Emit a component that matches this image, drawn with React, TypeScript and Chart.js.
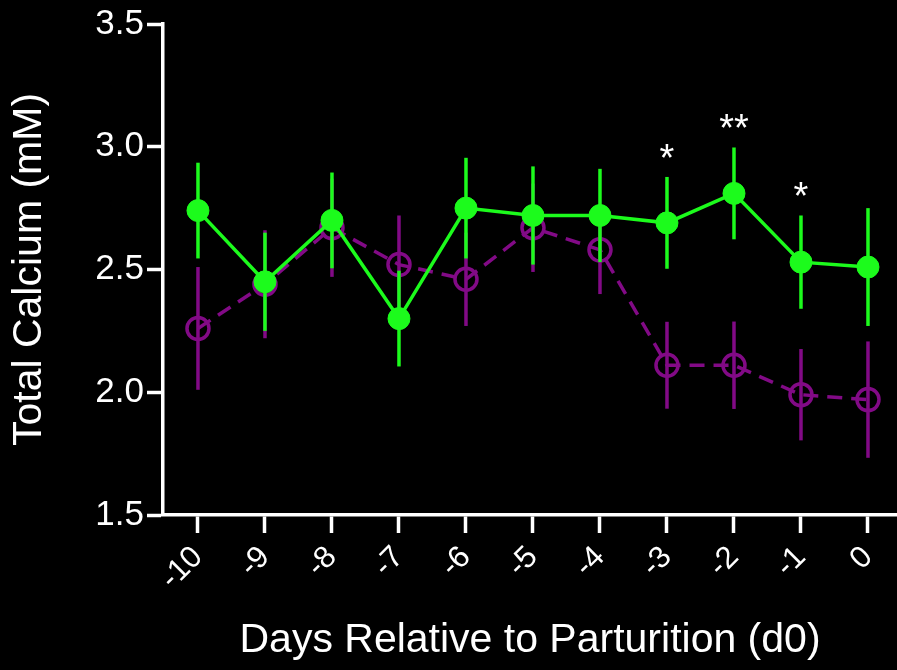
import React, { useEffect, useRef } from "react";
import { Chart, registerables } from "chart.js";

Chart.register(...registerables);

// Days relative to parturition (d0)
const days = [-10, -9, -8, -7, -6, -5, -4, -3, -2, -1, 0];

// Normocalcemic group: mean ± SEM total calcium (mM)
const normoMean = [2.74, 2.45, 2.70, 2.30, 2.75, 2.72, 2.72, 2.69, 2.81, 2.53, 2.51];
const normoSem = [0.195, 0.2, 0.195, 0.195, 0.205, 0.2, 0.19, 0.187, 0.187, 0.19, 0.24];

// Hypocalcemic group: mean ± SEM total calcium (mM)
const hypoMean = [2.26, 2.44, 2.67, 2.52, 2.46, 2.67, 2.58, 2.11, 2.11, 1.99, 1.97];
const hypoSem = [0.25, 0.22, 0.2, 0.2, 0.19, 0.18, 0.18, 0.177, 0.178, 0.186, 0.237];

// Significance markers per day
const significance = ["", "", "", "", "", "", "", "*", "**", "*", ""];

// Y axis ticks
const yTicks = [1.5, 2.0, 2.5, 3.0, 3.5];

const GREEN = "#1cfb1c";
const PURPLE = "#820a86";
const FONT = "'Liberation Sans', Arial, Helvetica, sans-serif";

const W = 897;
const H = 670;

const errorBars = {
  id: "errorBars",
  beforeDatasetDraw(chart: any, args: any) {
    const ds: any = chart.data.datasets[args.index];
    if (!ds.sem) return;
    const { ctx } = chart;
    const xs = chart.scales.x;
    const ys = chart.scales.y;
    ctx.save();
    ctx.strokeStyle = ds.borderColor;
    ctx.lineWidth = 3.5;
    ctx.setLineDash([]);
    ds.data.forEach((p: any, i: number) => {
      const x = xs.getPixelForValue(p.x);
      const top = ys.getPixelForValue(p.y + ds.sem[i]);
      const bot = ys.getPixelForValue(p.y - ds.sem[i]);
      ctx.beginPath();
      ctx.moveTo(x, top);
      ctx.lineTo(x, bot);
      ctx.stroke();
    });
    ctx.restore();
  },
};

const stars = {
  id: "stars",
  afterDatasetsDraw(chart: any) {
    const { ctx } = chart;
    const xs = chart.scales.x;
    const ys = chart.scales.y;
    ctx.save();
    ctx.fillStyle = "#ffffff";
    ctx.font = `38px ${FONT}`;
    ctx.textAlign = "center";
    ctx.textBaseline = "alphabetic";
    significance.forEach((s, i) => {
      if (!s) return;
      const top = Math.max(normoMean[i] + normoSem[i], hypoMean[i] + hypoSem[i]);
      const x = xs.getPixelForValue(days[i]);
      const y = ys.getPixelForValue(top);
      ctx.fillText(s, x, y - 6);
    });
    ctx.restore();
  },
};

const background = {
  id: "background",
  beforeDraw(chart: any) {
    const { ctx } = chart;
    ctx.save();
    ctx.fillStyle = "#000";
    ctx.fillRect(0, 0, chart.width, chart.height);
    ctx.restore();
  },
};

export default function App() {
  const ref = useRef<HTMLCanvasElement | null>(null);

  useEffect(() => {
    if (!ref.current) return;
    const chart = new Chart(ref.current, {
      type: "line",
      data: {
        datasets: [
          {
            label: "Normocalcemic",
            data: days.map((d, i) => ({ x: d, y: normoMean[i] })),
            sem: normoSem,
            borderColor: GREEN,
            backgroundColor: GREEN,
            borderWidth: 3.5,
            pointRadius: 11,
            pointBackgroundColor: GREEN,
            pointBorderColor: GREEN,
            pointBorderWidth: 1,
            tension: 0,
            order: 0,
          } as any,
          {
            label: "Hypocalcemic",
            data: days.map((d, i) => ({ x: d, y: hypoMean[i] })),
            sem: hypoSem,
            borderColor: PURPLE,
            backgroundColor: "rgba(0,0,0,0)",
            borderWidth: 3.5,
            borderDash: [15, 9],
            pointRadius: 11,
            pointBackgroundColor: "rgba(0,0,0,0)",
            pointBorderColor: PURPLE,
            pointBorderWidth: 3.5,
            tension: 0,
            order: 1,
          } as any,
        ],
      },
      options: {
        responsive: false,
        animation: false,
        layout: {
          autoPadding: false,
          padding: { top: 24, right: 0, left: 0, bottom: 0 },
        },
        plugins: {
          legend: { display: false },
          tooltip: { enabled: false },
        },
        scales: {
          x: {
            type: "linear",
            min: -10.522,
            max: 0.433,
            afterBuildTicks: (scale: any) => {
              scale.ticks = days.map((v) => ({ value: v }));
            },
            afterFit: (scale: any) => {
              scale.height = 155;
              scale.paddingLeft = 0;
              scale.paddingRight = 0;
            },
            grid: {
              drawOnChartArea: false,
              drawTicks: true,
              tickLength: 18,
              tickWidth: 3.5,
              tickColor: "#ffffff",
              color: "#ffffff",
            },
            border: { display: true, color: "#ffffff", width: 3.5 },
            ticks: {
              autoSkip: false,
              minRotation: 45,
              maxRotation: 45,
              padding: 6,
              color: "#ffffff",
              font: { family: FONT, size: 31 },
              callback: (v: any) => String(v),
            },
            title: {
              display: true,
              text: "Days Relative to Parturition (d0)",
              color: "#ffffff",
              font: { family: FONT, size: 41 },
              padding: { top: 0, bottom: 5 },
            },
          },
          y: {
            type: "linear",
            min: 1.5,
            max: 3.5,
            afterBuildTicks: (scale: any) => {
              scale.ticks = yTicks.map((v) => ({ value: v }));
            },
            afterFit: (scale: any) => {
              scale.width = 163;
              scale.paddingTop = 0;
              scale.paddingBottom = 0;
            },
            grid: {
              drawOnChartArea: false,
              drawTicks: true,
              tickLength: 16,
              tickWidth: 3.5,
              tickColor: "#ffffff",
              color: "#ffffff",
            },
            border: { display: true, color: "#ffffff", width: 3.5 },
            ticks: {
              padding: 3,
              color: "#ffffff",
              font: { family: FONT, size: 35 },
              callback: (v: any) => Number(v).toFixed(1),
            },
            title: {
              display: true,
              text: "Total Calcium (mM)",
              color: "#ffffff",
              font: { family: FONT, size: 41 },
              padding: { top: 5, bottom: 0 },
            },
          },
        },
      },
      plugins: [background, errorBars, stars],
    } as any);
    return () => chart.destroy();
  }, []);

  return (
    <div
      style={{
        position: "absolute",
        left: 0,
        top: 0,
        width: W,
        height: H,
        background: "#000",
      }}
    >
      <canvas ref={ref} width={W} height={H} />
    </div>
  );
}
